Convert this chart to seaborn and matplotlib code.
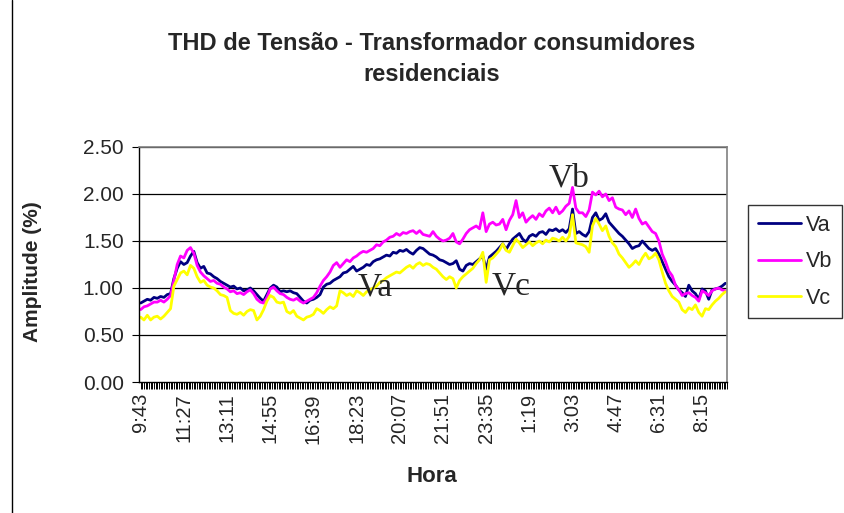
import matplotlib
matplotlib.use("Agg")
import matplotlib.pyplot as plt
from matplotlib.lines import Line2D
import numpy as np
import pandas as pd
import seaborn as sns

# THD readings sampled every 8 minutes, starting at 9:43
va = [0.84, 0.86, 0.88, 0.87, 0.90, 0.89, 0.91, 0.90, 0.93, 0.94, 1.10, 1.21, 1.28, 1.25, 1.27, 1.34, 1.39, 1.27, 1.21, 1.23, 1.16, 1.15,
      1.12, 1.10, 1.07, 1.05, 1.03, 1.01, 1.02, 0.99, 1.00, 0.97, 0.98, 1.00, 0.97, 0.93, 0.89, 0.86, 0.93, 1.00, 1.03, 1.01, 0.96, 0.97,
      0.96, 0.97, 0.95, 0.94, 0.90, 0.86, 0.84, 0.87, 0.88, 0.90, 0.93, 1.01, 1.04, 1.05, 1.08, 1.10, 1.12, 1.16, 1.17, 1.20, 1.23, 1.18,
      1.20, 1.22, 1.25, 1.24, 1.28, 1.30, 1.31, 1.33, 1.35, 1.34, 1.38, 1.37, 1.40, 1.39, 1.41, 1.38, 1.36, 1.40, 1.43, 1.42, 1.39, 1.36,
      1.35, 1.33, 1.30, 1.29, 1.27, 1.25, 1.26, 1.29, 1.20, 1.18, 1.24, 1.26, 1.25, 1.28, 1.31, 1.34, 1.20, 1.33, 1.36, 1.39, 1.43, 1.47, 1.41,
      1.47, 1.52, 1.55, 1.58, 1.52, 1.49, 1.55, 1.57, 1.55, 1.59, 1.60, 1.57, 1.62, 1.61, 1.63, 1.60, 1.62, 1.59, 1.63, 1.84, 1.58, 1.60,
      1.57, 1.55, 1.60, 1.75, 1.80, 1.72, 1.74, 1.79, 1.70, 1.66, 1.62, 1.58, 1.55, 1.51, 1.47, 1.42, 1.44, 1.45, 1.50, 1.46, 1.42, 1.40,
      1.42, 1.36, 1.28, 1.20, 1.12, 1.07, 1.03, 0.98, 0.95, 0.91, 1.03, 0.97, 0.94, 0.88, 0.99, 0.97, 0.88, 0.98, 0.99, 1.00, 1.02, 1.05]

vb = [0.77, 0.80, 0.81, 0.83, 0.85, 0.85, 0.87, 0.85, 0.88, 0.92, 1.08, 1.25, 1.34, 1.32, 1.40, 1.43, 1.37, 1.24, 1.17, 1.13, 1.10, 1.07,
      1.08, 1.05, 1.04, 1.01, 0.99, 0.96, 0.97, 0.94, 0.95, 0.93, 0.96, 0.98, 0.94, 0.88, 0.85, 0.84, 0.90, 0.99, 1.01, 0.97, 0.94, 0.93,
      0.90, 0.88, 0.87, 0.89, 0.86, 0.84, 0.86, 0.88, 0.90, 0.95, 1.02, 1.08, 1.12, 1.17, 1.24, 1.27, 1.22, 1.26, 1.30, 1.28, 1.32, 1.34,
      1.37, 1.39, 1.38, 1.40, 1.42, 1.46, 1.45, 1.49, 1.51, 1.54, 1.55, 1.58, 1.56, 1.59, 1.58, 1.60, 1.61, 1.58, 1.61, 1.57, 1.56, 1.55,
      1.60, 1.55, 1.52, 1.50, 1.51, 1.53, 1.58, 1.49, 1.47, 1.52, 1.58, 1.62, 1.64, 1.66, 1.63, 1.80, 1.60, 1.68, 1.70, 1.67, 1.68, 1.73, 1.62,
      1.72, 1.78, 1.93, 1.75, 1.80, 1.70, 1.74, 1.77, 1.73, 1.79, 1.76, 1.82, 1.85, 1.80, 1.86, 1.79, 1.82, 1.87, 1.90, 2.07, 1.85, 1.80,
      1.80, 1.76, 1.83, 2.02, 1.99, 2.03, 1.97, 2.00, 1.93, 1.96, 1.86, 1.84, 1.83, 1.78, 1.82, 1.75, 1.84, 1.74, 1.68, 1.70, 1.65, 1.60,
      1.58, 1.50, 1.36, 1.28, 1.18, 1.13, 1.03, 0.98, 0.92, 0.94, 0.95, 0.92, 0.90, 0.86, 0.97, 0.95, 0.92, 0.97, 0.99, 1.00, 0.98, 0.97]

vc = [0.69, 0.66, 0.71, 0.66, 0.69, 0.70, 0.67, 0.70, 0.74, 0.78, 1.02, 1.09, 1.16, 1.18, 1.14, 1.24, 1.21, 1.12, 1.06, 1.08, 1.03, 1.01,
      1.00, 0.97, 0.93, 0.92, 0.90, 0.76, 0.73, 0.72, 0.74, 0.71, 0.75, 0.77, 0.76, 0.66, 0.70, 0.77, 0.86, 0.92, 0.90, 0.85, 0.84, 0.85,
      0.75, 0.73, 0.76, 0.70, 0.68, 0.66, 0.69, 0.70, 0.72, 0.78, 0.76, 0.73, 0.77, 0.80, 0.78, 0.81, 0.97, 0.95, 0.92, 0.94, 0.91, 0.97,
      0.95, 0.92, 0.96, 0.98, 1.00, 1.02, 1.06, 1.08, 1.11, 1.13, 1.15, 1.17, 1.16, 1.19, 1.22, 1.24, 1.21, 1.25, 1.27, 1.24, 1.26, 1.25,
      1.22, 1.20, 1.16, 1.12, 1.09, 1.12, 1.10, 1.00, 1.08, 1.12, 1.15, 1.18, 1.21, 1.26, 1.30, 1.38, 1.06, 1.30, 1.32, 1.36, 1.40, 1.47, 1.40,
      1.38, 1.45, 1.52, 1.48, 1.43, 1.46, 1.49, 1.45, 1.48, 1.50, 1.47, 1.51, 1.49, 1.53, 1.52, 1.50, 1.54, 1.50, 1.55, 1.78, 1.48, 1.47,
      1.46, 1.44, 1.38, 1.66, 1.74, 1.68, 1.61, 1.66, 1.55, 1.48, 1.44, 1.36, 1.32, 1.27, 1.22, 1.25, 1.29, 1.25, 1.32, 1.37, 1.31, 1.33,
      1.37, 1.30, 1.17, 1.05, 0.97, 0.91, 0.88, 0.85, 0.77, 0.74, 0.79, 0.77, 0.82, 0.74, 0.70, 0.78, 0.77, 0.82, 0.86, 0.89, 0.93, 0.96]

series_names = ["Va", "Vb", "Vc"]
series_colors = ["#000080", "#FF00FF", "#FFFF00"]
tick_labels = ["9:43", "11:27", "13:11", "14:55", "16:39", "18:23", "20:07",
               "21:51", "23:35", "1:19", "3:03", "4:47", "6:31", "8:15"]
y_ticks = [0.0, 0.5, 1.0, 1.5, 2.0, 2.5]

n = len(va)
df = pd.DataFrame({
    "idx": np.tile(np.arange(n), 3),
    "THD": np.concatenate([va, vb, vc]),
    "Fase": np.repeat(series_names, n),
})

sns.set_style("white")
plt.rcParams["font.family"] = ["Liberation Sans", "DejaVu Sans"]

W, H = 845, 513
fig = plt.figure(figsize=(W / 100, H / 100), dpi=100)
fig.patch.set_facecolor("white")
ax = fig.add_axes([139 / W, 1 - 382 / H, 588 / W, 235 / H])

sns.lineplot(data=df, x="idx", y="THD", hue="Fase", hue_order=series_names,
             palette=series_colors, linewidth=2.0, ax=ax, legend=False)

ax.set_xlim(-0.5, n - 0.5)
ax.set_ylim(0, 2.5)
ax.set_yticks(y_ticks)
ax.set_yticklabels([f"{v:.2f}" for v in y_ticks], fontsize=15)
major = np.arange(0, n, 13)[:len(tick_labels)]
ax.set_xticks(major)
ax.set_xticklabels(tick_labels, rotation=90, fontsize=14.5)
ax.set_xticks(np.arange(0, n, 0.5), minor=True)
ax.tick_params(axis="x", which="both", direction="out", length=5, width=0.7,
               color="black", pad=3, bottom=True)
ax.tick_params(axis="y", direction="out", length=5, width=0.8, color="black",
               pad=6, left=True)

for v in y_ticks[1:]:
    ax.axhline(v, color="black", linewidth=0.9, zorder=0.5)

for side in ["top", "right"]:
    ax.spines[side].set_visible(True)
    ax.spines[side].set_color("#808080")
    ax.spines[side].set_linewidth(1.2)
for side in ["left", "bottom"]:
    ax.spines[side].set_color("black")
    ax.spines[side].set_linewidth(1.0)

ax.set_xlabel("Hora", fontsize=16, fontweight="bold")
ax.xaxis.set_label_coords((432 - 139) / 588, (382 - 466) / 235)
ax.set_ylabel("Amplitude (%)", fontsize=15, fontweight="bold")
ax.yaxis.set_label_coords((42 - 139) / 588, (382 - 272) / 235)

fig.text(432 / W, 1 - 59 / H,
         "THD de Tensão - Transformador consumidores\nresidenciais",
         ha="center", va="center", fontsize=17, fontweight="bold",
         linespacing=1.42)

# series name labels drawn next to the curves
serif = ["Liberation Serif", "DejaVu Serif"]
ax.text(70.5, 1.01, "Va", family=serif, fontsize=24, ha="center", va="center")
ax.text(129.0, 2.17, "Vb", family=serif, fontsize=24, ha="center", va="center")
ax.text(111.5, 1.02, "Vc", family=serif, fontsize=24, ha="center", va="center")

handles = [Line2D([0], [0], color=c, linewidth=2.0) for c in series_colors]
leg = fig.legend(handles, series_names, loc="upper left",
                 bbox_to_anchor=(748 / W, 1 - 205 / H), fontsize=15.5,
                 frameon=True, fancybox=False, shadow=False,
                 handlelength=2.0, handletextpad=0.22, labelspacing=0.72,
                 borderpad=0.45, borderaxespad=0)
leg.get_frame().set_edgecolor("black")
leg.get_frame().set_linewidth(1.0)

# chart frame edge
fig.add_artist(Line2D([12 / W, 12 / W], [0, 1], transform=fig.transFigure,
                      color="black", linewidth=1.0))

fig.savefig("out.png", dpi=100, facecolor="white")
